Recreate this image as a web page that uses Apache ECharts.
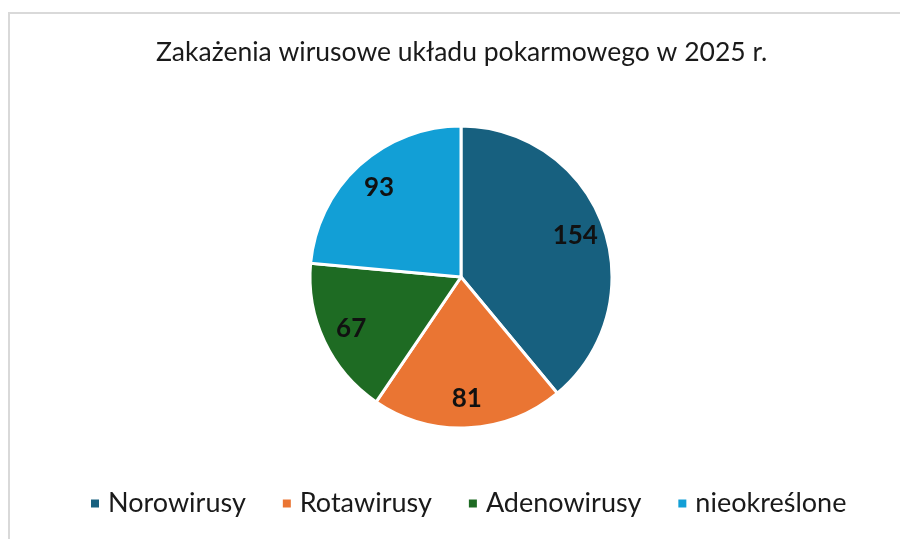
<!DOCTYPE html>
<html>
<head>
<meta charset="utf-8">
<script src="https://cdn.jsdelivr.net/npm/echarts@6/dist/echarts.min.js"></script>
<style>html,body{margin:0;padding:0;background:#fff;}#c{width:900px;height:539px;}</style>
</head>
<body>
<div id="c"></div>
<script>
const titleText = 'Zakażenia wirusowe układu pokarmowego w 2025 r.';
const categories = ['Norowirusy', 'Rotawirusy', 'Adenowirusy', 'nieokreślone'];
const values = [154, 81, 67, 93];
const colors = ['#17607f', '#ea7533', '#1e6b23', '#129fd6'];

const data = categories.map((n, i) => ({ name: n, value: values[i], itemStyle: { color: colors[i] } }));
const font = 'Lato, "Open Sans", sans-serif';
const chart = echarts.init(document.getElementById('c'), null, { renderer: 'canvas' });
chart.setOption({
  animation: false,
  backgroundColor: '#fff',
  graphic: [{
    type: 'rect', shape: { x: 9, y: 13, width: 900, height: 600 },
    style: { fill: 'none', stroke: '#d9d9d9', lineWidth: 2 }, silent: true, z: -10
  }],
  title: {
    text: titleText, left: 156, top: 39, padding: 0,
    textStyle: { fontFamily: font, fontSize: 26.5, fontWeight: 'normal', color: '#1a1a1a' }
  },
  legend: {
    data: categories, left: 89, top: 490, padding: 0,
    itemWidth: 10, itemHeight: 10, itemGap: 35,
    icon: 'rect',
    textStyle: { fontFamily: font, fontSize: 27, color: '#1a1a1a', padding: [0, 0, 0, 3] }
  },
  series: [{
    type: 'pie', center: [461, 277], radius: [0, 151], startAngle: 90, clockwise: true,
    data: data,
    itemStyle: { borderColor: '#fff', borderWidth: 3 },
    label: { show: false }, labelLine: { show: false },
    emphasis: { disabled: true }
  }, {
    type: 'pie', center: [461, 277], radius: [86, 151], startAngle: 90, clockwise: true,
    data: data.map(d => ({ name: d.name, value: d.value })),
    itemStyle: { color: 'rgba(0,0,0,0)', borderWidth: 0 },
    silent: true,
    label: { show: true, position: 'inside', formatter: '{c}', fontFamily: font, fontSize: 26, fontWeight: 'bold', color: '#111' },
    labelLine: { show: false },
    emphasis: { disabled: true }
  }]
});
</script>
</body>
</html>
